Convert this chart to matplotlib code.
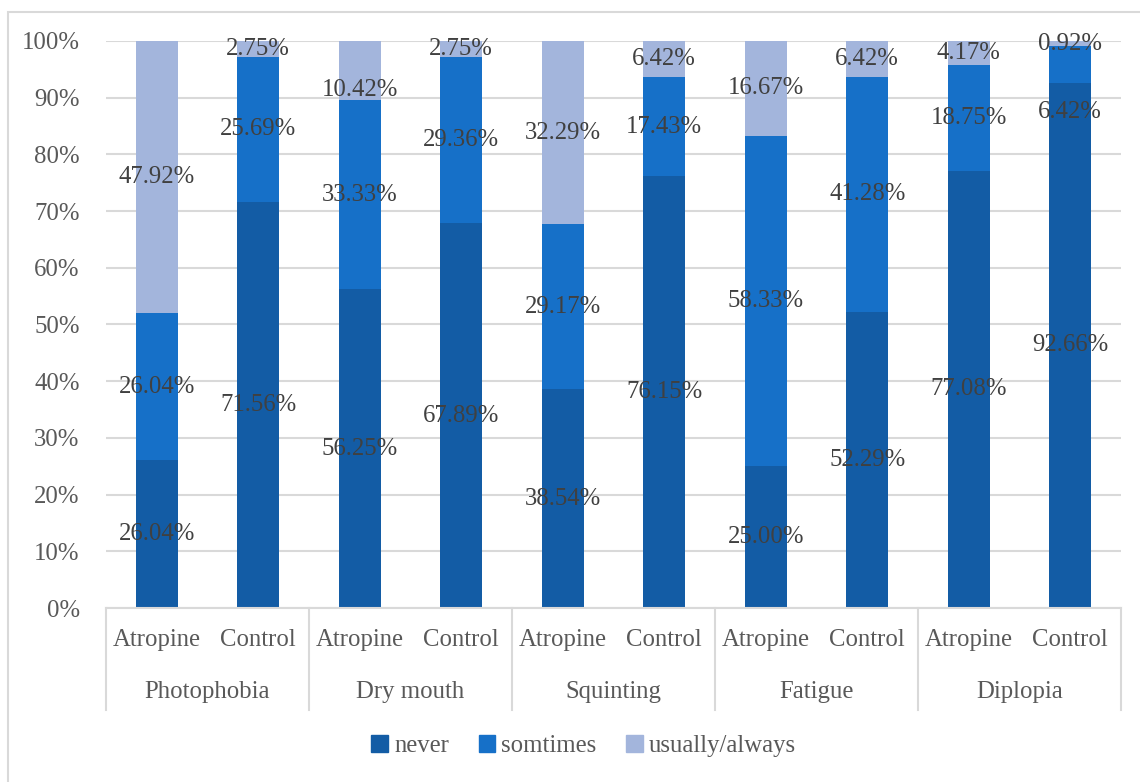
import numpy as np
import matplotlib.pyplot as plt
from matplotlib.patches import Patch, Rectangle

plt.rcParams['font.family'] = ['Liberation Serif', 'DejaVu Serif']

symptoms = ['Photophobia', 'Dry mouth', 'Squinting', 'Fatigue', 'Diplopia']
groups = ['Atropine', 'Control']

# percentages per bar, ordered symptom by symptom (Atropine, Control)
never = [26.04, 71.56, 56.25, 67.89, 38.54, 76.15, 25.00, 52.29, 77.08, 92.66]
sometimes = [26.04, 25.69, 33.33, 29.36, 29.17, 17.43, 58.33, 41.28, 18.75, 6.42]
usually = [47.92, 2.75, 10.42, 2.75, 32.29, 6.42, 16.67, 6.42, 4.17, 0.92]

series = [('never', never, '#135CA5'),
          ('somtimes', sometimes, '#1670C8'),
          ('usually/always', usually, '#A3B5DC')]

# small vertical nudges (percentage points) for labels that would collide
label_shift = {(2, 2): -3.5, (9, 1): -8.4}

fs = 17.8

fig = plt.figure(figsize=(11.4, 7.82), dpi=100)
ax = fig.add_axes([0.093, 0.2225, 0.8903, 0.7251])

x = np.arange(len(never))
bottom = np.zeros(len(never))
for s, (name, vals, color) in enumerate(series):
    vals = np.array(vals)
    ax.bar(x, vals, 0.41, bottom=bottom, color=color, label=name, zorder=2)
    for i, v in enumerate(vals):
        y = bottom[i] + v / 2 + label_shift.get((i, s), 0)
        ax.text(x[i], y, f'{v:.2f}%', ha='center', va='center',
                fontsize=fs, color='#404040', zorder=3)
    bottom += vals

ax.set_xlim(-0.5, len(never) - 0.5)
ax.set_ylim(0, 100)
ax.set_yticks(np.arange(0, 101, 10))
ax.set_yticklabels([f'{t}%' for t in range(0, 101, 10)])
ax.tick_params(axis='y', length=0, pad=19, labelsize=fs, labelcolor='#595959')
ax.grid(axis='y', color='#D9D9D9', linewidth=1.5, zorder=0)
ax.set_xticks([])
for side in ['left', 'right', 'top']:
    ax.spines[side].set_visible(False)
ax.spines['bottom'].set_color('#D9D9D9')
ax.spines['bottom'].set_linewidth(1.5)

# two-level category axis
trans = ax.get_xaxis_transform()
for i in x:
    ax.text(i, -0.057, groups[i % 2], transform=trans, ha='center', va='center',
            fontsize=fs, color='#595959')
for k, name in enumerate(symptoms):
    ax.text(2 * k + 0.5, -0.148, name, transform=trans, ha='center', va='center',
            fontsize=fs, color='#595959')
for b in np.arange(-0.5, len(never), 2):
    ax.plot([b, b], [0, -0.18], transform=trans, color='#D9D9D9',
            linewidth=1.5, clip_on=False)

handles = [Patch(color=c, label=n) for n, _, c in series]
fig.legend(handles=handles, loc='center', bbox_to_anchor=(0.512, 0.046), ncol=3,
           frameon=False, fontsize=fs, labelcolor='#595959', handlelength=0.67,
           handleheight=0.67, handletextpad=0.25, columnspacing=1.2)

# chart frame
fig.patches.append(Rectangle((8 / 1140, -0.05), 1.2, 1 - 12 / 782 + 0.05,
                             transform=fig.transFigure, fill=False,
                             edgecolor='#D9D9D9', linewidth=1.5))

plt.savefig('out.png', dpi=100)
